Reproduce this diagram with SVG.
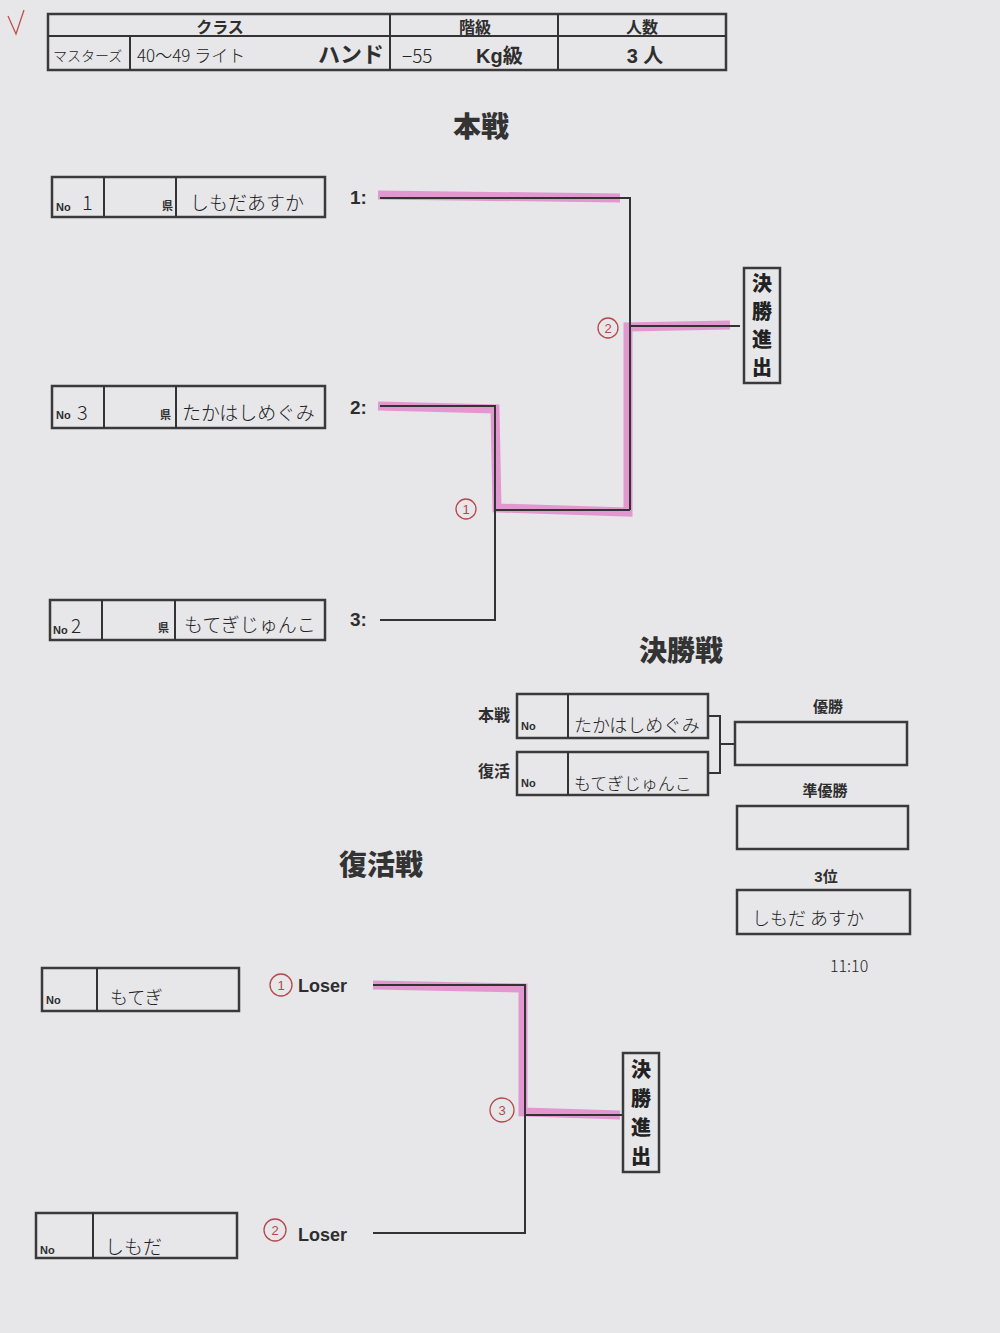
<svg xmlns="http://www.w3.org/2000/svg" width="1000" height="1333" viewBox="0 0 1000 1333">
<style>
.bg{fill:#e7e7ea}
.box{fill:none;stroke:#3a3a3a;stroke-width:2.5}
.ln{fill:none;stroke:#333;stroke-width:2}
.hl{fill:none;stroke:#e07cc8;stroke-width:9;stroke-opacity:0.75;stroke-linecap:butt;stroke-linejoin:miter}
.t{font-family:"Liberation Sans","Noto Sans CJK JP",sans-serif;font-weight:bold;fill:#2e2e2e}
.h{font-family:"Noto Sans CJK JP",sans-serif;font-weight:300;fill:#222}
.title{font-family:"Noto Sans CJK JP",sans-serif;font-weight:900;fill:#333;font-size:28px;text-anchor:middle}
.red{fill:none;stroke:#b5484a;stroke-width:1.3}
.rt{font-family:"Liberation Sans",sans-serif;fill:#b5484a;font-size:13px;text-anchor:middle}
.v{font-family:"Noto Sans CJK JP",sans-serif;font-weight:900;fill:#222;font-size:20px;text-anchor:middle}
</style>
<rect class="bg" x="0" y="0" width="1000" height="1333"/>

<g id="check"><path d="M8 16 L16 34 L24 10" fill="none" stroke="#c0504d" stroke-width="1.3"/></g>

<g id="header">
<rect class="box" x="48" y="14" width="678" height="56"/>
<line class="ln" x1="48" y1="36" x2="726" y2="36" stroke-width="2.5"/>
<line class="ln" x1="390" y1="14" x2="390" y2="70" stroke-width="2.5"/>
<line class="ln" x1="558" y1="14" x2="558" y2="70" stroke-width="2.5"/>
<line class="ln" x1="130" y1="36" x2="130" y2="70" stroke-width="2"/>
<text class="t" x="220" y="33" font-size="16" text-anchor="middle">クラス</text>
<text class="t" x="475" y="33" font-size="16" text-anchor="middle">階級</text>
<text class="t" x="642" y="33" font-size="16" text-anchor="middle">人数</text>
<text class="h" x="53" y="61" font-size="14">マスターズ</text>
<text class="h" x="137" y="62" font-size="17">40〜49  ライト</text>
<text class="t" x="384" y="62" font-size="22" text-anchor="end">ハンド</text>
<text class="h" x="402" y="63" font-size="19">−55</text>
<text class="t" x="476" y="63" font-size="20">Kg級</text>
<text class="t" x="645" y="63" font-size="20" text-anchor="middle">3 人</text>
</g>

<text class="title" x="481" y="137">本戦</text>

<g id="entry1">
<rect class="box" x="52" y="177" width="273" height="40"/>
<line class="ln" x1="104" y1="177" x2="104" y2="217"/>
<line class="ln" x1="176" y1="177" x2="176" y2="217"/>
<text class="t" x="56" y="211" font-size="11">No</text>
<text class="h" x="82" y="210" font-size="20">1</text>
<text class="t" x="162" y="210" font-size="11">県</text>
<text class="h" x="190" y="210" font-size="19">しもだあすか</text>
</g>
<g id="entry2">
<rect class="box" x="52" y="386" width="273" height="42"/>
<line class="ln" x1="104" y1="386" x2="104" y2="428"/>
<line class="ln" x1="176" y1="386" x2="176" y2="428"/>
<text class="t" x="56" y="419" font-size="11">No</text>
<text class="h" x="77" y="420" font-size="20">3</text>
<text class="t" x="160" y="419" font-size="11">県</text>
<text class="h" x="182" y="420" font-size="19">たかはしめぐみ</text>
</g>
<g id="entry3">
<rect class="box" x="50" y="600" width="275" height="40"/>
<line class="ln" x1="102" y1="600" x2="102" y2="640"/>
<line class="ln" x1="175" y1="600" x2="175" y2="640"/>
<text class="t" x="53" y="634" font-size="11">No</text>
<text class="h" x="71" y="633" font-size="19">2</text>
<text class="t" x="158" y="632" font-size="11">県</text>
<text class="h" x="184" y="632" font-size="19">もてぎじゅんこ</text>
</g>

<g id="seeds">
<text class="t" x="350" y="204" font-size="19">1:</text>
<text class="t" x="350" y="414" font-size="19">2:</text>
<text class="t" x="350" y="626" font-size="19">3:</text>
</g>

<g id="connectors">
<polyline class="hl" points="378,195 620,198"/>
<polyline class="hl" points="378,406 495,409 497,508 628,512 628,327 730,325"/>
<polyline class="ln" points="380,198 630,198 630,510"/>
<polyline class="ln" points="380,406 495,406 495,620 380,620"/>
<polyline class="ln" points="495,510 630,510"/>
<polyline class="ln" points="630,326 740,326"/>
<polyline class="ln" points="708,716 720,716 720,773 708,773"/>
<polyline class="ln" points="720,744 735,744"/>
<polyline class="hl" points="373,985 523,988 523,1112 620,1115"/>
<polyline class="ln" points="373,985 525,985 525,1233 373,1233"/>
<polyline class="ln" points="525,1115 622,1115"/>
</g>

<g id="marks">
<circle class="red" cx="608" cy="328" r="10"/><text class="rt" x="608" y="333">2</text>
<circle class="red" cx="466" cy="509" r="10"/><text class="rt" x="466" y="514">1</text>
<circle class="red" cx="502" cy="1110" r="12"/><text class="rt" x="502" y="1115">3</text>
</g>

<g id="advance1">
<rect class="box" x="744" y="268" width="36" height="115"/>
<text class="v" x="762" y="291">決</text>
<text class="v" x="762" y="319">勝</text>
<text class="v" x="762" y="347">進</text>
<text class="v" x="762" y="375">出</text>
</g>

<text class="title" x="681" y="661">決勝戦</text>

<g id="final1">
<text class="t" x="494" y="721" font-size="16" text-anchor="middle">本戦</text>
<rect class="box" x="517" y="694" width="191" height="44"/>
<line class="ln" x1="568" y1="694" x2="568" y2="738"/>
<text class="t" x="521" y="730" font-size="11">No</text>
<text class="h" x="574" y="732" font-size="18">たかはしめぐみ</text>
</g>
<g id="final2">
<text class="t" x="494" y="777" font-size="16" text-anchor="middle">復活</text>
<rect class="box" x="517" y="752" width="191" height="43"/>
<line class="ln" x1="568" y1="752" x2="568" y2="795"/>
<text class="t" x="521" y="787" font-size="11">No</text>
<text class="h" x="574" y="790" font-size="17">もてぎじゅんこ</text>
</g>

<g id="winner">
<text class="t" x="828" y="712" font-size="15" text-anchor="middle">優勝</text>
<rect class="box" x="735" y="722" width="172" height="43"/>
</g>
<g id="runnerup">
<text class="t" x="825" y="796" font-size="15" text-anchor="middle">準優勝</text>
<rect class="box" x="737" y="806" width="171" height="43"/>
</g>
<g id="third">
<text class="t" x="826" y="882" font-size="15" text-anchor="middle">3位</text>
<rect class="box" x="737" y="890" width="173" height="44"/>
<text class="h" x="752" y="925" font-size="18">しもだ あすか</text>
</g>
<text class="h" x="830" y="972" font-size="16">11:10</text>

<text class="title" x="381" y="875">復活戦</text>

<g id="rep1">
<rect class="box" x="42" y="968" width="197" height="43"/>
<line class="ln" x1="97" y1="968" x2="97" y2="1011"/>
<text class="t" x="46" y="1004" font-size="11">No</text>
<text class="h" x="110" y="1004" font-size="18">もてぎ</text>
</g>
<g id="rep2">
<rect class="box" x="36" y="1213" width="201" height="45"/>
<line class="ln" x1="93" y1="1213" x2="93" y2="1258"/>
<text class="t" x="40" y="1254" font-size="11">No</text>
<text class="h" x="105" y="1254" font-size="19">しもだ</text>
</g>

<g id="losers">
<circle class="red" cx="281" cy="985" r="11"/><text class="rt" x="281" y="990">1</text>
<text class="t" x="298" y="992" font-size="18">Loser</text>
<circle class="red" cx="275" cy="1230" r="11"/><text class="rt" x="275" y="1235">2</text>
<text class="t" x="298" y="1241" font-size="18">Loser</text>
</g>

<g id="advance2">
<rect class="box" x="623" y="1053" width="36" height="119"/>
<text class="v" x="641" y="1077">決</text>
<text class="v" x="641" y="1106">勝</text>
<text class="v" x="641" y="1135">進</text>
<text class="v" x="641" y="1164">出</text>
</g>
</svg>
